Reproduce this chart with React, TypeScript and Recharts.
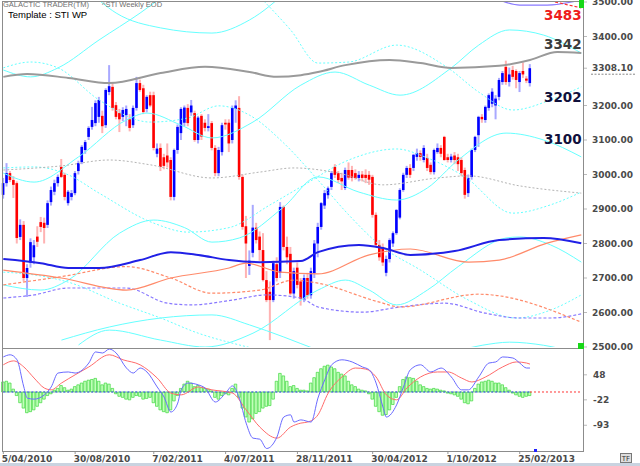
import React from "react";
import { ComposedChart, Bar, Line, XAxis, YAxis, ReferenceLine } from "recharts";

// ── weekly candles (^STI), one per week from 5/04/2010 ──
const OPEN = [
  2941, 2975, 3004, 2984, 2975, 2819, 2854, 2700, 2745, 2760,
  2820, 2862, 2860, 2854, 2920, 2950, 2975, 3022, 2999, 2917,
  2935, 2946, 3010, 3036, 3071, 3109, 3138, 3149, 3167, 3170,
  3143, 3239, 3254, 3201, 3178, 3167, 3172, 3160, 3143, 3193,
  3265, 3250, 3190, 3230, 3230, 3060, 3077, 3050, 3055, 3042,
  2935, 3071, 3120, 3150, 3193, 3180, 3178, 3100, 3170, 3150,
  3135, 3149, 3077, 3004, 3065, 3150, 3150, 3100, 3190, 3193,
  2993, 2850, 2735, 2773, 2846, 2820, 2781, 2694, 2660, 2636,
  2740, 2715, 2906, 2790, 2770, 2655, 2730, 2690, 2640, 2700,
  2650, 2714, 2800, 2848, 2910, 2940, 2964, 3022, 3004, 2990,
  2961, 3013, 3013, 3004, 2990, 3000, 2999, 2999, 2993, 2883,
  2796, 2790, 2715, 2755, 2800, 2830, 2875, 2955, 2999, 3019,
  3019, 3051, 3062, 3042, 3048, 3028, 3007, 3065, 3077, 3109,
  3050, 3042, 3055, 3050, 3042, 3013, 2946, 2993, 3071, 3114,
  3167, 3158, 3193, 3205, 3200, 3225, 3268, 3312, 3268, 3303,
  3300, 3268, 3300, 3278, 3265,
];
const HIGH = [
  2990, 3033, 3010, 2995, 2980, 2870, 2865, 2740, 2815, 2810,
  2850, 2877, 2875, 2925, 2965, 2985, 3000, 3045, 3005, 2955,
  2955, 3010, 3040, 3085, 3100, 3140, 3196, 3215, 3225, 3185,
  3250, 3317, 3265, 3210, 3190, 3195, 3200, 3175, 3200, 3283,
  3275, 3260, 3230, 3240, 3240, 3090, 3090, 3060, 3090, 3050,
  3075, 3145, 3195, 3200, 3204, 3216, 3185, 3170, 3175, 3160,
  3175, 3155, 3085, 3080, 3150, 3160, 3160, 3200, 3215, 3227,
  3000, 2880, 2780, 2912, 2860, 2835, 2830, 2720, 2690, 2750,
  2760, 2920, 2910, 2820, 2790, 2730, 2745, 2700, 2710, 2715,
  2730, 2810, 2860, 2920, 2955, 2965, 3010, 3030, 3010, 3005,
  3020, 3035, 3025, 3015, 3010, 3010, 3015, 3010, 2999, 2890,
  2810, 2800, 2765, 2815, 2835, 2900, 2960, 3005, 3025, 3030,
  3060, 3075, 3070, 3085, 3060, 3035, 3075, 3090, 3085, 3112,
  3060, 3060, 3065, 3060, 3050, 3020, 3000, 3075, 3112, 3170,
  3175, 3200, 3235, 3250, 3230, 3280, 3300, 3330, 3310, 3315,
  3305, 3300, 3325, 3285, 3320,
];
const LOW = [
  2930, 2965, 2978, 2932, 2800, 2810, 2690, 2645, 2730, 2740,
  2790, 2833, 2800, 2845, 2910, 2940, 2965, 2990, 2925, 2910,
  2925, 2940, 3000, 3030, 3060, 3100, 3130, 3140, 3150, 3120,
  3135, 3230, 3185, 3160, 3123, 3155, 3140, 3125, 3135, 3185,
  3240, 3175, 3180, 3195, 3070, 3050, 3010, 3015, 3020, 2925,
  2925, 3060, 3100, 3140, 3140, 3170, 3095, 3090, 3100, 3125,
  3125, 3070, 2995, 2995, 3055, 3130, 3065, 3090, 3150, 2985,
  2840, 2700, 2709, 2760, 2800, 2750, 2690, 2630, 2520, 2630,
  2690, 2700, 2780, 2740, 2650, 2640, 2670, 2620, 2630, 2640,
  2640, 2700, 2760, 2840, 2900, 2930, 2955, 2990, 2975, 2955,
  2955, 2985, 2980, 2985, 2980, 2980, 2975, 2970, 2875, 2790,
  2750, 2735, 2705, 2745, 2790, 2825, 2870, 2950, 2990, 2990,
  3010, 3040, 3040, 3035, 3010, 3000, 3000, 3060, 3050, 3040,
  3035, 3035, 3030, 3010, 2995, 2930, 2935, 2985, 3065, 3080,
  3150, 3150, 3185, 3195, 3160, 3215, 3260, 3260, 3255, 3275,
  3250, 3239, 3280, 3265, 3255,
];
const CLOSE = [
  2975, 3004, 2984, 2970, 2816, 2854, 2700, 2729, 2804, 2795,
  2805, 2848, 2845, 2917, 2955, 2975, 2993, 2993, 2935, 2950,
  2946, 3004, 3033, 3080, 3094, 3135, 3158, 3207, 3216, 3140,
  3245, 3256, 3193, 3167, 3160, 3187, 3190, 3135, 3193, 3265,
  3245, 3181, 3225, 3200, 3077, 3075, 3022, 3025, 3035, 2935,
  3071, 3138, 3190, 3194, 3149, 3200, 3100, 3165, 3110, 3135,
  3140, 3077, 3004, 3071, 3143, 3145, 3090, 3193, 3200, 2993,
  2848, 2800, 2750, 2846, 2810, 2781, 2694, 2636, 2636, 2743,
  2700, 2906, 2790, 2760, 2655, 2720, 2680, 2640, 2700, 2650,
  2720, 2800, 2848, 2917, 2946, 2960, 3004, 2999, 2984, 2980,
  3013, 2991, 2990, 2990, 2999, 2990, 2990, 2985, 2883, 2796,
  2760, 2745, 2755, 2810, 2830, 2897, 2955, 2999, 3019, 2999,
  3057, 3062, 3051, 3077, 3019, 3007, 3071, 3077, 3060, 3042,
  3042, 3052, 3042, 3030, 3004, 2941, 2990, 3071, 3109, 3167,
  3160, 3196, 3230, 3240, 3220, 3274, 3294, 3268, 3290, 3283,
  3274, 3294, 3290, 3272, 3308.1,
];

// ── oscillator histogram, one per week ──
const HIST = [
  28, 30, 25, 8, -10, -30, -45, -58, -55, -50,
  -40, -30, -20, -10, -5, 5, 10, 18, 12, 5,
  8, 15, 20, 25, 30, 33, 35, 38, 30, 20,
  25, 22, 10, -5, -12, -15, -20, -22, -15, -10,
  -12, -20, -18, -15, -30, -40, -50, -55, -58, -50,
  -25, -10, 10, 22, 30, 25, 15, 18, 12, 10,
  8, 3, -15, -20, -10, -5, -8, 10, 22, -15,
  -45, -70, -84, -75, -60, -55, -45, -40, -38, -20,
  30, 52, 45, 30, 15, 18, 10, 5, 5, 3,
  25, 40, 55, 65, 72, 75, 70, 65, 55, 50,
  45, 30, 20, 15, 8, 5, 3, -5, -20, -40,
  -55, -65, -63, -50, -35, -15, 15, 35, 42, 40,
  38, 30, 20, 15, 10, 8, 10, 8, 5, 3,
  -3, -5, -8, -12, -20, -30, -33, -25, 10, 22,
  28, 30, 33, 30, 25, 25, 20, 12, 5, -3,
  -8, -12, -15, -12, -10,
];

// oscillator lines as [week, value]
const OSC_FAST = [
  [0, 98], [2, 104], [4, 90], [6, 14], [7, -17], [9, -20], [12, -8], [14, 14], [16, 53], [19, 56],
  [21, 53], [25, 81], [27, 112], [29, 109], [31, 120], [33, 109], [36, 67], [38, 53], [40, 67], [42, 56],
  [45, 14], [47, -14], [49, -56], [51, -31], [52, 6], [54, 25], [57, 20], [59, 11], [62, -28], [65, -3],
  [67, 17], [69, -17], [71, -87], [73, -129], [75, -132], [77, -158], [80, -126], [82, -70], [84, -64], [85, -84],
  [87, -78], [90, -84], [92, -17], [94, 34], [96, 76], [99, 90], [102, 84], [105, 70], [107, 62], [109, 25],
  [111, -42], [112, -70], [115, -36], [117, 14], [119, 62], [122, 76], [125, 56], [128, 67], [131, 42], [134, 6],
  [136, 6], [139, 42], [142, 81], [144, 84], [146, 98], [149, 95], [151, 81], [153, 67], [154, 67],
];
const OSC_SLOW = [
  [0, 76], [3, 87], [6, 70], [9, 39], [12, 11], [14, 6], [17, 25], [21, 48], [25, 70], [31, 104],
  [35, 90], [40, 76], [45, 39], [49, -3], [52, -8], [57, 14], [61, 6], [67, -3], [71, -50], [75, -98],
  [80, -129], [84, -98], [87, -87], [89, -84], [92, -64], [95, -3], [99, 42], [103, 67], [106, 64], [109, 42],
  [112, -8], [115, -22], [118, 11], [122, 42], [127, 56], [130, 56], [134, 39], [137, 28], [141, 42], [146, 70],
  [150, 84], [153, 81], [154, 78],
];

// cycle lines as [week, price]
const GRAY_WAVE = [[0, 3283], [7, 3291], [19, 3280], [31, 3265], [46, 3294], [59, 3312], [72, 3297], [80, 3283], [87, 3288], [92, 3297], [100, 3317], [113, 3332], [122, 3323], [131, 3309], [145, 3315], [154, 3332], [162, 3355], [169, 3352]];
const GRAY_DOT = [[0, 3013], [17, 3025], [31, 3042], [43, 3028], [61, 2990], [75, 3007], [85, 3019], [98, 3004], [111, 2970], [127, 2990], [136, 2996], [151, 2967], [169, 2946]];
const BLUE_WAVE = [[0, 2755], [11, 2743], [19, 2729], [28, 2729], [40, 2752], [49, 2775], [57, 2767], [66, 2752], [75, 2746], [87, 2749], [92, 2775], [104, 2796], [111, 2787], [119, 2767], [132, 2778], [145, 2810], [158, 2816], [169, 2801]];
const SALMON_WAVE = [[0, 2723], [17, 2700], [36, 2665], [49, 2700], [66, 2729], [71, 2743], [81, 2717], [92, 2712], [107, 2767], [119, 2784], [136, 2746], [145, 2752], [159, 2801], [169, 2825]];
const SALMON_DOT = [[0, 2680], [17, 2704], [36, 2733], [49, 2700], [61, 2656], [75, 2665], [85, 2694], [92, 2685], [110, 2630], [116, 2616], [139, 2653], [169, 2572]];
const PURPLE_DOT = [[0, 2642], [9, 2651], [19, 2671], [36, 2671], [48, 2627], [55, 2622], [67, 2636], [77, 2651], [87, 2642], [92, 2616], [105, 2601], [116, 2616], [129, 2627], [141, 2598], [151, 2584], [160, 2584], [169, 2596]];
const PURPLE_TOP = [[145, 3506], [151, 3491], [159, 3491], [169, 3506]];
const RED_TOP = [[150, 3530], [159, 3506], [169, 3483]];
const CYAN_A = [[0, 3303], [8, 3283], [16, 3309], [28, 3390], [40, 3468], [50, 3541]];
const CYAN_B = [[24, 3541], [33, 3468], [46, 3425], [61, 3410], [72, 3448], [84, 3541]];
const CYAN_C = [[0, 3309], [8, 3326], [16, 3309], [28, 3216], [43, 3152], [54, 3164], [63, 3199], [72, 3172], [82, 3091], [92, 2984], [101, 2883], [110, 2796], [122, 2723], [136, 2636], [150, 2584], [160, 2607], [169, 2651]];
const CYAN_D = [[0, 3004], [9, 2978], [22, 3051], [36, 3158], [42, 3178], [52, 3143], [61, 3106], [73, 3152], [87, 3259], [97, 3297], [107, 3259], [116, 3230], [131, 3309], [139, 3375], [148, 3419], [158, 3404], [169, 3352]];
const CYAN_E = [[73, 3535], [84, 3419], [92, 3323], [101, 3326], [115, 3375], [130, 3309], [139, 3239], [149, 3187], [160, 3216], [169, 3254]];
const CYAN_F = [[0, 3019], [9, 3022], [19, 2999], [28, 2946], [44, 2859], [54, 2833], [66, 2846], [78, 2912], [87, 2964], [101, 3042], [115, 3074], [124, 3048], [135, 2993], [149, 2888], [160, 2912], [169, 2949]];
const CYAN_G = [[0, 2680], [11, 2665], [19, 2694], [34, 2830], [44, 2868], [53, 2846], [61, 2804], [69, 2816], [82, 2906], [92, 2993], [104, 2949], [115, 2926], [124, 2961], [133, 3042], [147, 3120], [158, 3100], [169, 3051]];
const CYAN_H = [[22, 2506], [31, 2549], [46, 2520], [59, 2500], [73, 2540], [92, 2665], [100, 2694], [107, 2665], [115, 2622], [124, 2665], [133, 2733], [147, 2816], [151, 2819], [160, 2796], [169, 2746]];
const CYAN_K = [[17, 2520], [31, 2558], [46, 2584], [61, 2593], [72, 2564], [82, 2529], [92, 2491], [105, 2450], [125, 2470], [140, 2505], [148, 2514], [158, 2505], [169, 2480]];
const CYAN_J = [[0, 2717], [9, 2709], [19, 2688], [34, 2627], [46, 2584], [57, 2540], [69, 2506], [78, 2485]];

const DATE_TICKS = [0, 21, 44, 65, 86, 108, 130, 151];
const DATE_LABELS = ["5/04/2010", "30/08/2010", "7/02/2011", "4/07/2011", "28/11/2011", "30/04/2012", "1/10/2012", "25/02/2013"];
const PRICE_TICKS = [2500, 2600, 2700, 2800, 2900, 3000, 3100, 3200, 3308.1, 3400, 3500];
const OSC_TICKS = [48, -22, -93];
const LEVELS = [
  { text: "3483", top: 7, color: "#ee1c1c" },
  { text: "3342", top: 36, color: "#3c3c3c" },
  { text: "3202", top: 89, color: "#10103c" },
  { text: "3100", top: 131, color: "#10103c" },
];

const SLOTS = 170; // weeks incl. empty space right of the last bar
const CYAN = "#66ffff";
const FONT = "'DejaVu Sans', Verdana, sans-serif";
const SANS = "'Liberation Sans', Arial, sans-serif";
const AXIS_INK = "#4a4a4a";

const CURVES = [
  { key: "cyA", pts: CYAN_A, stroke: CYAN, w: 1 },
  { key: "cyB", pts: CYAN_B, stroke: CYAN, w: 1 },
  { key: "cyC", pts: CYAN_C, stroke: CYAN, w: 1, dash: "2 2" },
  { key: "cyD", pts: CYAN_D, stroke: CYAN, w: 1 },
  { key: "cyE", pts: CYAN_E, stroke: CYAN, w: 1, dash: "2 2" },
  { key: "cyF", pts: CYAN_F, stroke: CYAN, w: 1, dash: "2 2" },
  { key: "cyG", pts: CYAN_G, stroke: CYAN, w: 1 },
  { key: "cyH", pts: CYAN_H, stroke: CYAN, w: 1 },
  { key: "cyK", pts: CYAN_K, stroke: CYAN, w: 1 },
  { key: "cyJ", pts: CYAN_J, stroke: CYAN, w: 1, dash: "2 2" },
  { key: "grayDot", pts: GRAY_DOT, stroke: "#b4b4b4", w: 1, dash: "2 2" },
  { key: "purpleDot", pts: PURPLE_DOT, stroke: "#8878ff", w: 1.2, dash: "3 2" },
  { key: "salmonDot", pts: SALMON_DOT, stroke: "#ff8a6a", w: 1.2, dash: "3 2" },
  { key: "salmon", pts: SALMON_WAVE, stroke: "#ff8a6a", w: 1.2 },
  { key: "purpleTop", pts: PURPLE_TOP, stroke: "#8878ff", w: 1.2 },
  { key: "redTop", pts: RED_TOP, stroke: "#ff3030", w: 1.2, dash: "3 2" },
  { key: "gray", pts: GRAY_WAVE, stroke: "#9a9a9a", w: 2 },
  { key: "blue", pts: BLUE_WAVE, stroke: "#2020e6", w: 2 },
];

const rows: any[] = Array.from({ length: SLOTS }, (_, i) => {
  const has = i < CLOSE.length;
  return {
    i,
    o: has ? OPEN[i] : null,
    h: has ? HIGH[i] : null,
    l: has ? LOW[i] : null,
    c: has ? CLOSE[i] : null,
    range: has ? [LOW[i], HIGH[i]] : null,
    hist: has ? HIST[i] : null,
  };
});
for (const cv of CURVES) for (const [k, v] of cv.pts) rows[k][cv.key] = v;
for (const [k, v] of OSC_FAST) rows[k].fast = v;
for (const [k, v] of OSC_SLOW) rows[k].slow = v;

function Candle(props: any) {
  const { x, y, width, height, payload } = props;
  if (!payload || payload.c == null || height == null) return null;
  const { o, h, l, c } = payload;
  const top = Math.min(y, y + height);
  const span = Math.abs(height);
  const k = span / (h - l || 1);
  const cx = x + width / 2;
  const yo = top + (h - o) * k;
  const yc = top + (h - c) * k;
  const up = c >= o;
  return (
    <g>
      <rect x={cx - 1} y={top} width={2} height={Math.max(span, 1)} fill={up ? "#a9a9ff" : "#ffb3b3"} />
      <rect x={cx - 1.3} y={Math.min(yo, yc)} width={2.6} height={Math.max(1.5, Math.abs(yc - yo))} fill={up ? "#0000ff" : "#ff0000"} />
    </g>
  );
}

function PriceTick(props: any) {
  const { x, y, payload } = props;
  const last = payload.value === 3308.1;
  return (
    <g>
      <text x={x + 3} y={y} dy="0.35em" textAnchor="start" fontFamily={FONT} fontWeight="bold" fontSize={9} fill={AXIS_INK}>
        {payload.value.toFixed(2)}
      </text>
      {last && <line x1={x + 2} x2={x + 47} y1={y + 6} y2={y + 6} stroke="#888" strokeDasharray="2 1.5" />}
    </g>
  );
}

function OscTick(props: any) {
  const { x, y, payload } = props;
  return (
    <text x={x + 4} y={y} dy="0.35em" textAnchor="start" fontFamily={FONT} fontWeight="bold" fontSize={9} fill={AXIS_INK}>
      {payload.value}
    </text>
  );
}

function DateTick(props: any) {
  const { x, y, payload } = props;
  const label = DATE_LABELS[DATE_TICKS.indexOf(payload.value)];
  return (
    <text x={x - 1.5} y={y + 6} textAnchor="start" fontFamily={FONT} fontWeight="bold" fontSize={9} fill={AXIS_INK}>
      {label}
    </text>
  );
}

const abs = (left: number, top: number, extra: any = {}) => ({ position: "absolute" as const, left, top, ...extra });

export default function App() {
  return (
    <div style={{ position: "absolute", left: 0, top: 0, width: 640, height: 466, background: "#fff", overflow: "hidden", fontFamily: FONT }}>
      {/* price panel: plot spans y 2..347, extra bottom room keeps the 2500.00 label whole */}
      <div style={abs(0, 0)}>
        <ComposedChart width={640} height={362} data={rows} margin={{ top: 2, right: 0, bottom: 15, left: 1.6 }} barCategoryGap={0}>
          <XAxis dataKey="i" hide />
          <YAxis
            orientation="right" width={57} domain={[2500, 3500]} allowDataOverflow
            ticks={PRICE_TICKS} interval={0} tick={<PriceTick />} tickSize={4}
            tickLine={{ stroke: "#bbb" }} axisLine={false}
          />
          {CURVES.map((cv) => (
            <Line
              key={cv.key} dataKey={cv.key} type="monotone" stroke={cv.stroke} strokeWidth={cv.w}
              strokeDasharray={cv.dash} dot={false} activeDot={false} connectNulls isAnimationActive={false}
            />
          ))}
          <Bar dataKey="range" shape={Candle} isAnimationActive={false} />
        </ComposedChart>
      </div>

      {/* oscillator panel */}
      <div style={abs(0, 348)}>
        <ComposedChart width={640} height={118} data={rows} margin={{ top: 0, right: 0, bottom: 0, left: 1.6 }} barCategoryGap={0}>
          <XAxis
            dataKey="i" ticks={DATE_TICKS} interval={0} tick={<DateTick />} tickSize={3}
            tickLine={{ stroke: "#999" }} axisLine={false} height={15}
          />
          <YAxis
            orientation="right" width={57} domain={[-165, 123]} allowDataOverflow
            ticks={OSC_TICKS} interval={0} tick={<OscTick />} tickSize={4}
            tickLine={{ stroke: "#bbb" }} axisLine={false}
          />
          <Bar dataKey="hist" fill="#c2ffba" stroke="#3ed83e" strokeWidth={0.7} barSize={2.6} isAnimationActive={false} />
          <ReferenceLine segment={[{ x: 0, y: 0 }, { x: 154, y: 0 }]} stroke="#3333ff" strokeDasharray="2 2" />
          <ReferenceLine segment={[{ x: 154, y: 0 }, { x: 169, y: 0 }]} stroke="#ff3333" strokeDasharray="2 2" />
          <Line dataKey="slow" type="monotone" stroke="#ff6a6a" strokeWidth={1} dot={false} activeDot={false} connectNulls isAnimationActive={false} />
          <Line dataKey="fast" type="monotone" stroke="#6a6aff" strokeWidth={1} dot={false} activeDot={false} connectNulls isAnimationActive={false} />
        </ComposedChart>
      </div>

      {/* frame */}
      <div style={abs(2, 1, { width: 582, height: 451, border: "1px solid #8c8c8c", boxSizing: "border-box" })} />
      <div style={abs(2, 348, { width: 582, height: 1, background: "#8c8c8c" })} />
      <div style={abs(579, 0, { width: 5, height: 8, background: "#18d818" })} />
      <div style={abs(578, 343, { width: 6, height: 6, background: "#18d818" })} />
      <div style={abs(534, 449, { width: 3, height: 3, background: "#2020ff" })} />
      <div style={abs(0, 463, { width: 640, height: 3, background: "#c9d3e0" })} />
      <div style={abs(620, 453, { width: 12, height: 10, border: "1px solid #777", background: "#ddd", fontSize: 7, lineHeight: "10px", textAlign: "center", color: "#333", boxSizing: "border-box" })}>TF</div>

      {/* header */}
      <div style={abs(3, 0, { fontFamily: SANS, fontSize: 7.5, lineHeight: "9px", color: "#707070", whiteSpace: "nowrap" })}>GALACTIC TRADER(TM)</div>
      <div style={abs(102, 0, { fontFamily: SANS, fontSize: 7.5, lineHeight: "9px", color: "#707070", whiteSpace: "nowrap" })}>^STI Weekly EOD</div>
      <div style={abs(8, 9, { fontFamily: SANS, fontSize: 9.5, lineHeight: "11px", color: "#000", whiteSpace: "nowrap" })}>Template : STI WP</div>

      {/* cycle level labels */}
      {LEVELS.map((lv) => (
        <div key={lv.text} style={abs(544, lv.top, { fontSize: 13.5, fontWeight: "bold", lineHeight: "16px", color: lv.color })}>
          {lv.text}
        </div>
      ))}
    </div>
  );
}
